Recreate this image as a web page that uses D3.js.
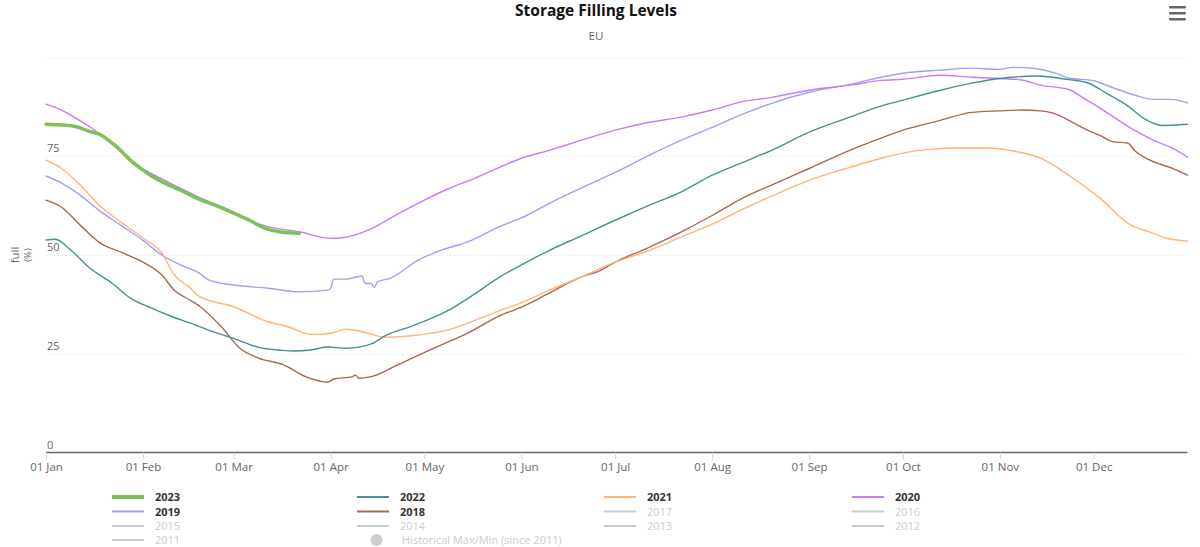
<!DOCTYPE html>
<html><head><meta charset="utf-8">
<script src="https://cdn.jsdelivr.net/npm/d3@7/dist/d3.min.js"></script>
<style>body{margin:0;background:#fff;font-family:"Open Sans","Noto Sans",sans-serif;}</style>
</head><body>
<svg id="c" width="1200" height="547"></svg>
<script>
// [day of year, % full]
const s2023 = [[0,83.1],[3,83.0],[9,82.6],[14,81.3],[17,80.6],[22,77.8],[28,73.3],[33,70.4],[38,68.2],[43,66.4],[49,64.1],[54,62.6],[60,60.6],[65,58.8],[70,56.8],[75,55.8],[81,55.5]];
const s2022 = [[0,53.8],[3,54.0],[8,51.2],[14,46.7],[21,42.9],[27,39.1],[33,36.8],[40,34.5],[46,32.8],[52,31.0],[60,28.9],[68,26.6],[75,25.9],[79,25.7],[85,26.0],[90,26.7],[96,26.4],[104,27.5],[109,29.8],[117,32.0],[128,35.7],[137,40.1],[145,44.4],[152,47.5],[161,51.2],[171,54.8],[182,58.8],[193,62.6],[203,65.9],[213,70.2],[222,73.2],[232,76.5],[244,81.1],[257,84.9],[267,87.7],[274,89.2],[286,91.7],[296,93.5],[305,94.7],[317,95.3],[327,94.4],[333,93.6],[339,91.0],[346,87.7],[351,84.6],[357,82.8],[365,83.1]];
const s2021 = [[0,74.0],[5,71.9],[11,67.7],[17,62.6],[24,58.3],[31,54.3],[37,50.5],[41,45.0],[46,41.7],[49,39.5],[60,36.9],[71,33.1],[77,31.9],[85,29.9],[91,30.2],[96,31.2],[103,30.2],[108,29.2],[116,29.5],[128,30.9],[139,34.0],[145,35.9],[152,37.9],[161,41.1],[171,44.4],[182,48.2],[193,51.2],[203,54.5],[213,57.8],[222,61.3],[232,64.9],[244,68.9],[257,72.2],[267,74.5],[274,75.8],[283,76.8],[292,77.1],[302,77.1],[308,76.5],[318,74.5],[327,70.2],[337,64.4],[347,57.5],[353,55.8],[358,54.3],[365,53.5]];
const s2020 = [[0,88.2],[5,86.7],[9,84.9],[15,81.9],[22,77.6],[28,73.1],[33,70.9],[43,66.9],[49,64.6],[60,60.9],[65,58.8],[71,57.2],[81,55.9],[91,54.2],[94,54.3],[103,56.3],[109,58.8],[113,60.6],[121,63.9],[129,66.9],[137,69.4],[145,72.2],[152,74.5],[161,76.5],[171,79.0],[182,81.6],[193,83.6],[203,84.9],[213,86.7],[222,88.7],[232,89.9],[244,91.7],[257,93.0],[267,94.2],[274,94.5],[286,95.5],[296,95.0],[305,94.7],[312,94.3],[318,93.0],[327,91.9],[332,89.6],[337,87.2],[343,84.1],[348,81.6],[354,79.1],[360,77.1],[365,74.8]];
const s2019 = [[0,70.0],[5,68.2],[11,65.1],[17,61.3],[24,57.5],[31,53.7],[37,50.0],[43,47.5],[49,45.4],[52,43.7],[60,42.4],[71,41.6],[81,40.7],[90,41.1],[91,41.6],[92,43.9],[96,43.9],[101,44.7],[102,42.8],[104,42.8],[105,41.8],[106,43.2],[110,44.1],[119,48.7],[126,51.1],[135,53.4],[145,57.2],[152,59.4],[161,63.1],[171,66.9],[182,70.9],[193,75.3],[203,79.0],[213,82.3],[222,85.4],[232,88.4],[244,91.2],[257,93.2],[267,95.0],[274,96.0],[286,96.8],[296,97.3],[305,97.0],[309,97.5],[316,97.2],[323,96.0],[327,94.8],[335,94.1],[341,92.4],[348,90.5],[354,89.4],[360,89.4],[365,88.5]];
const s2018 = [[0,63.9],[5,62.1],[11,57.5],[17,53.2],[24,50.7],[31,48.2],[37,45.0],[41,41.1],[46,38.6],[49,37.1],[56,31.9],[62,26.4],[68,23.9],[76,22.2],[83,19.2],[90,17.8],[92,18.6],[98,19.2],[99,19.6],[100,18.8],[104,19.2],[113,22.4],[124,26.4],[135,30.3],[145,34.6],[152,36.8],[161,40.4],[171,44.4],[177,46.0],[182,48.2],[193,52.0],[203,55.8],[213,60.0],[222,64.1],[232,67.7],[244,71.9],[257,76.5],[267,79.6],[274,81.6],[286,84.1],[296,86.1],[305,86.5],[312,86.7],[318,86.5],[322,85.9],[328,83.7],[333,81.6],[337,80.3],[341,78.7],[346,78.3],[348,76.5],[353,74.0],[360,72.0],[365,70.2]];

const yearNames = ["2023","2022","2021","2020","2019","2018"];
const yearSeries = [s2023,s2022,s2021,s2020,s2019,s2018];
const yearColors = ["#7cc15a","#46928f","#ffb27a","#c77cf5","#a0a0f5","#a8694c"];
const hiddenNames = ["2017","2016","2015","2014","2013","2012","2011"];
const gridTicks = [25,50,75,100];
const yLabelTicks = [0,25,50,75];
const monthTicks = ["2020-01-01","2020-02-01","2020-03-01","2020-04-01","2020-05-01","2020-06-01","2020-07-01","2020-08-01","2020-09-01","2020-10-01","2020-11-01","2020-12-01"];

const svg = d3.select("#c");
const base = new Date(2020,0,1);
const toDate = d => new Date(2020,0,1+d);
const x = d3.scaleTime().domain([base,new Date(2020,11,31)]).range([46,1187.5]);
const y = d3.scaleLinear().domain([0,100]).range([452.5,57.5]);

// title
svg.append("text").attr("x",596).attr("y",16).attr("text-anchor","middle")
  .attr("font-size",15.5).attr("font-weight","bold").attr("fill","#111").text("Storage Filling Levels");
svg.append("text").attr("x",596).attr("y",40).attr("text-anchor","middle")
  .attr("font-size",11.5).attr("fill","#666").text("EU");

// menu icon
[0,6,12].forEach(o=>svg.append("rect").attr("x",1169).attr("y",6+o).attr("width",17).attr("height",2.6).attr("rx",1).attr("fill","#666"));

// grid
svg.append("g").selectAll("line").data(gridTicks).join("line")
  .attr("x1",46).attr("x2",1187.5).attr("y1",d=>Math.round(y(d))+0.5).attr("y2",d=>Math.round(y(d))+0.5)
  .attr("stroke","#d8d8d8").attr("stroke-dasharray","1,3");
svg.append("g").selectAll("text").data(yLabelTicks).join("text")
  .attr("x",47).attr("y",d=>y(d)-4).attr("font-size",11).attr("fill","#666").text(d=>d);
svg.append("text").attr("transform","translate(19,255) rotate(-90)").attr("text-anchor","middle")
  .attr("font-size",11.5).attr("fill","#666").text("full");
svg.append("text").attr("transform","translate(31,255) rotate(-90)").attr("text-anchor","middle")
  .attr("font-size",9.5).attr("fill","#666").text("(%)");

// x axis
const xa = svg.append("g").attr("transform","translate(0,452.5)")
  .call(d3.axisBottom(x).tickValues(monthTicks.map(s=>d3.timeParse("%Y-%m-%d")(s))).tickFormat(d3.timeFormat("%d %b")).tickSize(7).tickPadding(3));
xa.select(".domain").attr("stroke","#666").attr("stroke-width",1.5).attr("d","M46,0H1187.5");
xa.selectAll(".tick line").attr("stroke","#ccd6eb");
xa.selectAll(".tick text").attr("font-size",11.5).attr("fill","#666").attr("font-family","'Open Sans','Noto Sans',sans-serif");

// lines
const line = d3.line().x(d=>x(toDate(d[0]))).y(d=>y(d[1])).curve(d3.curveMonotoneX);
[5,4,3,2,1,0].forEach(i=>{
  svg.append("path").datum(yearSeries[i]).attr("d",line).attr("fill","none")
    .attr("stroke",yearColors[i]).attr("stroke-width",i===0?3.5:1.4).attr("stroke-linejoin","round").attr("stroke-linecap","round");
});

// legend
const colX = [112,357,604,852];
const rowY = [497,511.5,526,540];
const legendItems = yearNames.map((n,i)=>({name:n,color:yearColors[i],on:true,w:i===0?4:2}))
  .concat(hiddenNames.map(n=>({name:n,color:"#cccccc",on:false,w:2})));
legendItems.forEach((it,k)=>{
  const cx = colX[k%4], cy = rowY[Math.floor(k/4)];
  svg.append("line").attr("x1",cx).attr("x2",cx+32).attr("y1",cy).attr("y2",cy).attr("stroke",it.on?it.color:"#cccccc").attr("stroke-width",it.w);
  svg.append("text").attr("x",cx+43).attr("y",cy+4).attr("font-size",11).attr("font-weight",it.on?"bold":"normal")
    .attr("fill",it.on?"#333":"#cccccc").text(it.name);
});
svg.append("circle").attr("cx",376.5).attr("cy",540).attr("r",6).attr("fill","#cccccc");
svg.append("text").attr("x",402).attr("y",544).attr("font-size",11).attr("fill","#cccccc").text("Historical Max/Min (since 2011)");
</script>
</body></html>
